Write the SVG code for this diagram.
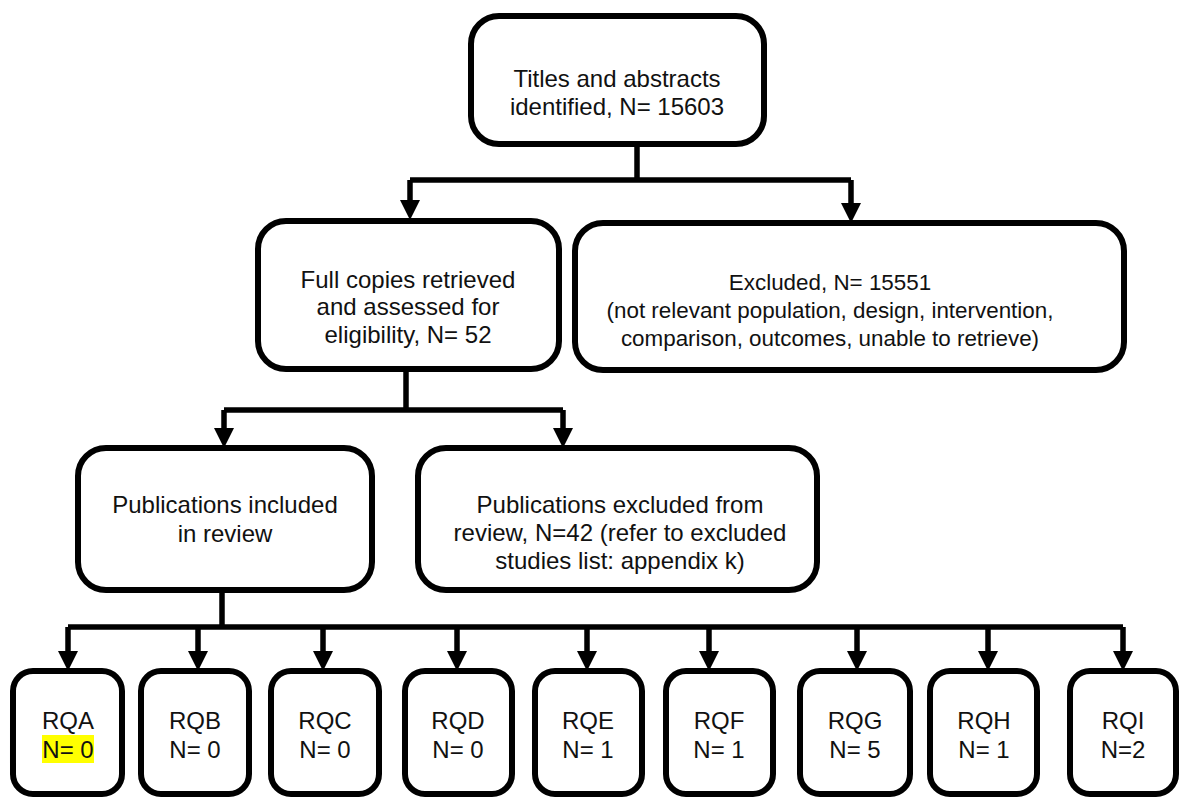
<svg xmlns="http://www.w3.org/2000/svg" width="1179" height="799" viewBox="0 0 1179 799">
<style>
.box{fill:#fff;stroke:#000;stroke-width:6}
.t{font-family:"Liberation Sans",Arial,sans-serif;font-size:24px;fill:#111;text-anchor:middle}
.s{font-size:22.4px}
.c{fill:none;stroke:#000;stroke-width:5.5;stroke-linejoin:miter}
</style>
<defs>
<marker id="arr" markerUnits="userSpaceOnUse" markerWidth="20" markerHeight="20" viewBox="0 0 18 18" refX="0" refY="9" orient="auto" overflow="visible">
<path d="M0,0 L18,9 L0,18 z" fill="#000"/>
</marker>
</defs>
<rect width="1179" height="799" fill="#fff"/>
<g id="connectors">
<path class="c" d="M637,147 V180"/>
<path class="c" d="M410,180 H851"/>
<path class="c" d="M410,180 V200" marker-end="url(#arr)"/>
<path class="c" d="M851,180 V203" marker-end="url(#arr)"/>
<path class="c" d="M406,372 V410"/>
<path class="c" d="M224,410 H563"/>
<path class="c" d="M224,410 V428" marker-end="url(#arr)"/>
<path class="c" d="M563,410 V428" marker-end="url(#arr)"/>
<path class="c" d="M222,593 V627"/>
<path class="c" d="M68,627 H1123"/>
<path class="c" d="M68,627 V651" marker-end="url(#arr)"/>
<path class="c" d="M198,627 V651" marker-end="url(#arr)"/>
<path class="c" d="M323,627 V651" marker-end="url(#arr)"/>
<path class="c" d="M457,627 V651" marker-end="url(#arr)"/>
<path class="c" d="M587,627 V651" marker-end="url(#arr)"/>
<path class="c" d="M709,627 V651" marker-end="url(#arr)"/>
<path class="c" d="M857,627 V651" marker-end="url(#arr)"/>
<path class="c" d="M988,627 V651" marker-end="url(#arr)"/>
<path class="c" d="M1123,627 V651" marker-end="url(#arr)"/>
</g>
<g id="titles">
<rect class="box" x="471" y="16" width="293" height="128" rx="28"/>
<text class="t" x="617" y="87">Titles and abstracts</text>
<text class="t" x="617" y="115">identified, N= 15603</text>
</g>
<g id="fullcopies">
<rect class="box" x="258" y="221" width="301" height="148" rx="28"/>
<text class="t" x="408" y="288">Full copies retrieved</text>
<text class="t" x="408" y="315">and assessed for</text>
<text class="t" x="408" y="343">eligibility, N= 52</text>
</g>
<g id="excluded">
<rect class="box" x="575" y="223" width="549" height="147" rx="28"/>
<text class="t s" x="830" y="290">Excluded, N= 15551</text>
<text class="t s" x="830" y="318">(not relevant population, design, intervention,</text>
<text class="t s" x="830" y="346">comparison, outcomes, unable to retrieve)</text>
</g>
<g id="included">
<rect class="box" x="78" y="448" width="294" height="142" rx="28"/>
<text class="t" x="225" y="513">Publications included</text>
<text class="t" x="225" y="542">in review</text>
</g>
<g id="pubexcluded">
<rect class="box" x="418" y="448" width="399" height="142" rx="28"/>
<text class="t" x="620" y="513">Publications excluded from</text>
<text class="t" x="620" y="541">review, N=42 (refer to excluded</text>
<text class="t" x="620" y="569">studies list: appendix k)</text>
</g>
<g id="rqa">
<rect class="box" x="13" y="671" width="109" height="123" rx="20"/>
<rect x="42" y="735" width="52" height="28" fill="#ffff00"/>
<text class="t" x="68" y="729">RQA</text>
<text class="t" x="68" y="758">N= 0</text>
</g>
<g id="rqb">
<rect class="box" x="141" y="671" width="108" height="123" rx="20"/>
<text class="t" x="195" y="729">RQB</text>
<text class="t" x="195" y="758">N= 0</text>
</g>
<g id="rqc">
<rect class="box" x="271" y="671" width="108" height="123" rx="20"/>
<text class="t" x="325" y="729">RQC</text>
<text class="t" x="325" y="758">N= 0</text>
</g>
<g id="rqd">
<rect class="box" x="405" y="671" width="107" height="123" rx="20"/>
<text class="t" x="458" y="729">RQD</text>
<text class="t" x="458" y="758">N= 0</text>
</g>
<g id="rqe">
<rect class="box" x="535" y="671" width="107" height="123" rx="20"/>
<text class="t" x="588" y="729">RQE</text>
<text class="t" x="588" y="758">N= 1</text>
</g>
<g id="rqf">
<rect class="box" x="666" y="671" width="107" height="123" rx="20"/>
<text class="t" x="719" y="729">RQF</text>
<text class="t" x="719" y="758">N= 1</text>
</g>
<g id="rqg">
<rect class="box" x="800" y="671" width="110" height="123" rx="20"/>
<text class="t" x="855" y="729">RQG</text>
<text class="t" x="855" y="758">N= 5</text>
</g>
<g id="rqh">
<rect class="box" x="930" y="671" width="107" height="123" rx="20"/>
<text class="t" x="984" y="729">RQH</text>
<text class="t" x="984" y="758">N= 1</text>
</g>
<g id="rqi">
<rect class="box" x="1070" y="671" width="106" height="123" rx="20"/>
<text class="t" x="1123" y="729">RQI</text>
<text class="t" x="1123" y="758">N=2</text>
</g>
</svg>
